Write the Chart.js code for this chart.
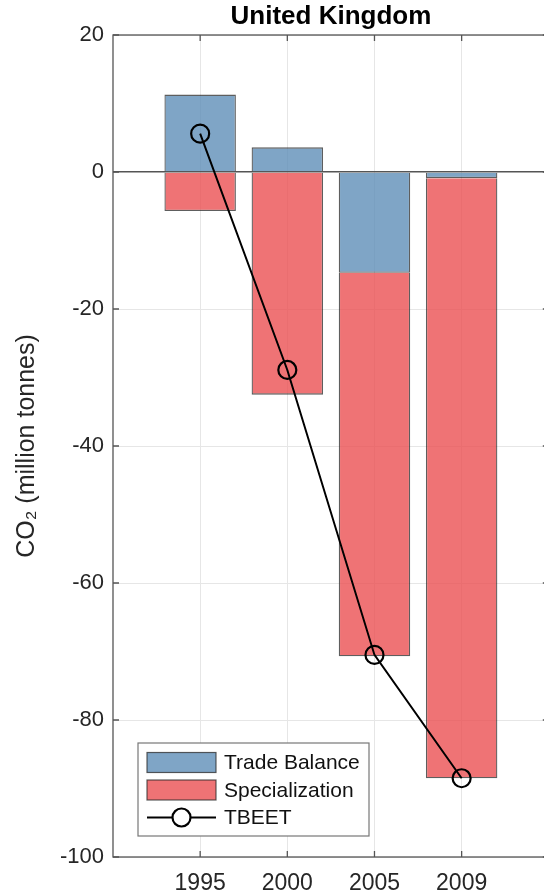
<!DOCTYPE html>
<html>
<head>
<meta charset="utf-8">
<script src="https://cdn.jsdelivr.net/npm/chart.js@4"></script>
<style>
  html, body { margin: 0; padding: 0; background: #fff; overflow: hidden; }
  #chart { display: block; }
</style>
</head>
<body>
<canvas id="chart" width="560" height="896"></canvas>
<script>
// Data
const titleText = 'United Kingdom';
const years = ['1995', '2000', '2005', '2009'];
const yearPos = [1, 2, 3, 4];
const tradeBalance = [11.3, 3.6, -14.7, -0.9];
const specialization = [-5.7, -32.5, -56.0, -87.6];
const tbeet = [5.6, -28.9, -70.5, -88.5];
const yTicks = [20, 0, -20, -40, -60, -80, -100];

const FONT = "'Liberation Sans', Arial, Helvetica, sans-serif";

function toPoints(values) {
    return values.map((v, i) => ({ x: yearPos[i], y: v }));
}

// frame with inward ticks, title over the axes, legend box (MATLAB look)
const framePlugin = {
    id: 'frame',
    afterDatasetsDraw(chart) {
        const { ctx, chartArea: a, scales } = chart;
        const len = 6;
        ctx.save();
        ctx.strokeStyle = '#555';
        ctx.lineWidth = 1.3;
        ctx.strokeRect(a.left, a.top, a.right - a.left, a.bottom - a.top);
        ctx.beginPath();
        scales.y.ticks.forEach(t => {
            const y = scales.y.getPixelForValue(t.value);
            ctx.moveTo(a.left, y); ctx.lineTo(a.left + len, y);
            ctx.moveTo(a.right, y); ctx.lineTo(a.right - len, y);
        });
        scales.x.ticks.forEach(t => {
            const x = scales.x.getPixelForValue(t.value);
            ctx.moveTo(x, a.bottom); ctx.lineTo(x, a.bottom - len);
            ctx.moveTo(x, a.top); ctx.lineTo(x, a.top + len);
        });
        ctx.stroke();
        ctx.restore();
    },
    afterDraw(chart) {
        const { ctx, chartArea: a } = chart;
        const ds = chart.data.datasets;
        ctx.save();

        // title centred on the plot box
        ctx.fillStyle = '#000';
        ctx.font = 'bold 26px ' + FONT;
        ctx.textAlign = 'center';
        ctx.textBaseline = 'middle';
        ctx.fillText(titleText, (a.left + a.right) / 2, 17);

        const bx = a.left + 25, bw = 231, bh = 93, by = a.bottom - 21 - bh;
        ctx.fillStyle = '#fff';
        ctx.fillRect(bx, by, bw, bh);
        ctx.strokeStyle = '#777';
        ctx.lineWidth = 1.2;
        ctx.strokeRect(bx, by, bw, bh);

        const sx = bx + 9, sw = 69, rowH = 27.5;
        ctx.font = '21px ' + FONT;
        ctx.textAlign = 'left';
        ds.forEach((d, i) => {
            const cy = by + 19.5 + i * rowH;
            if (d.type === 'line') {
                ctx.strokeStyle = d.borderColor;
                ctx.lineWidth = d.borderWidth;
                ctx.beginPath();
                ctx.moveTo(sx, cy); ctx.lineTo(sx + sw, cy);
                ctx.stroke();
                ctx.beginPath();
                ctx.arc(sx + sw / 2, cy, d.pointRadius, 0, Math.PI * 2);
                ctx.fillStyle = '#fff';
                ctx.fill();
                ctx.lineWidth = d.pointBorderWidth;
                ctx.stroke();
            } else {
                ctx.fillStyle = '#fff';
                ctx.fillRect(sx, cy - 10, sw, 20);
                ctx.fillStyle = d.backgroundColor;
                ctx.fillRect(sx, cy - 10, sw, 20);
                ctx.strokeStyle = d.borderColor;
                ctx.lineWidth = 1.2;
                ctx.strokeRect(sx, cy - 10, sw, 20);
            }
            ctx.fillStyle = '#111';
            ctx.fillText(d.label, sx + sw + 8, cy + 1);
        });
        ctx.restore();
    }
};

const chart = new Chart(document.getElementById('chart'), {
    type: 'bar',
    data: {
        datasets: [
            {
                label: 'Trade Balance',
                data: toPoints(tradeBalance),
                backgroundColor: 'rgba(95, 142, 184, 0.8)',
                borderColor: 'rgba(40, 40, 40, 0.75)',
                borderWidth: 1.3,
                stack: 'bars',
                barPercentage: 1,
                categoryPercentage: 0.82
            },
            {
                label: 'Specialization',
                data: toPoints(specialization),
                backgroundColor: 'rgba(235, 80, 82, 0.8)',
                borderColor: 'rgba(40, 40, 40, 0.75)',
                borderWidth: 1.3,
                stack: 'bars',
                barPercentage: 1,
                categoryPercentage: 0.82
            },
            {
                type: 'line',
                label: 'TBEET',
                data: toPoints(tbeet),
                borderColor: '#000',
                borderWidth: 2,
                pointRadius: 9,
                pointBorderWidth: 2.2,
                pointBackgroundColor: 'rgba(0,0,0,0)',
                pointBorderColor: '#000',
                stack: 'tbeet',
                order: -1,
                tension: 0
            }
        ]
    },
    options: {
        responsive: false,
        animation: false,
        layout: { padding: { left: 0, right: 2, top: 35, bottom: 0 } },
        plugins: {
            legend: { display: false },
            tooltip: { enabled: false },
            title: { display: false }
        },
        scales: {
            x: {
                type: 'linear',
                stacked: true,
                offset: false,
                min: 0,
                max: 5,
                afterBuildTicks: (s) => { s.ticks = yearPos.map(v => ({ value: v })); },
                afterFit: (s) => { s.height = 39; s.paddingLeft = 0; s.paddingRight = 0; },
                border: { display: false },
                grid: { color: '#e6e6e6', lineWidth: 1, drawTicks: false, offset: false },
                ticks: {
                    color: '#262626',
                    font: { family: FONT, size: 23 },
                    padding: 13,
                    maxRotation: 0,
                    callback: (v) => years[yearPos.indexOf(v)] || ''
                }
            },
            y: {
                stacked: true,
                min: -100,
                max: 20,
                afterBuildTicks: (s) => { s.ticks = yTicks.map(v => ({ value: v })); },
                afterFit: (s) => { s.width = 113; },
                border: { display: false },
                grid: {
                    drawTicks: false,
                    color: (c) => c.tick && c.tick.value === 0 ? '#555' : '#e6e6e6',
                    lineWidth: (c) => c.tick && c.tick.value === 0 ? 1.5 : 1
                },
                ticks: {
                    color: '#262626',
                    font: { family: FONT, size: 22 },
                    padding: 9
                },
                title: {
                    display: true,
                    text: 'CO₂ (million tonnes)',
                    color: '#262626',
                    font: { family: FONT, size: 25 },
                    padding: { top: 12, bottom: 0 }
                }
            }
        }
    },
    plugins: [framePlugin]
});
</script>
</body>
</html>
